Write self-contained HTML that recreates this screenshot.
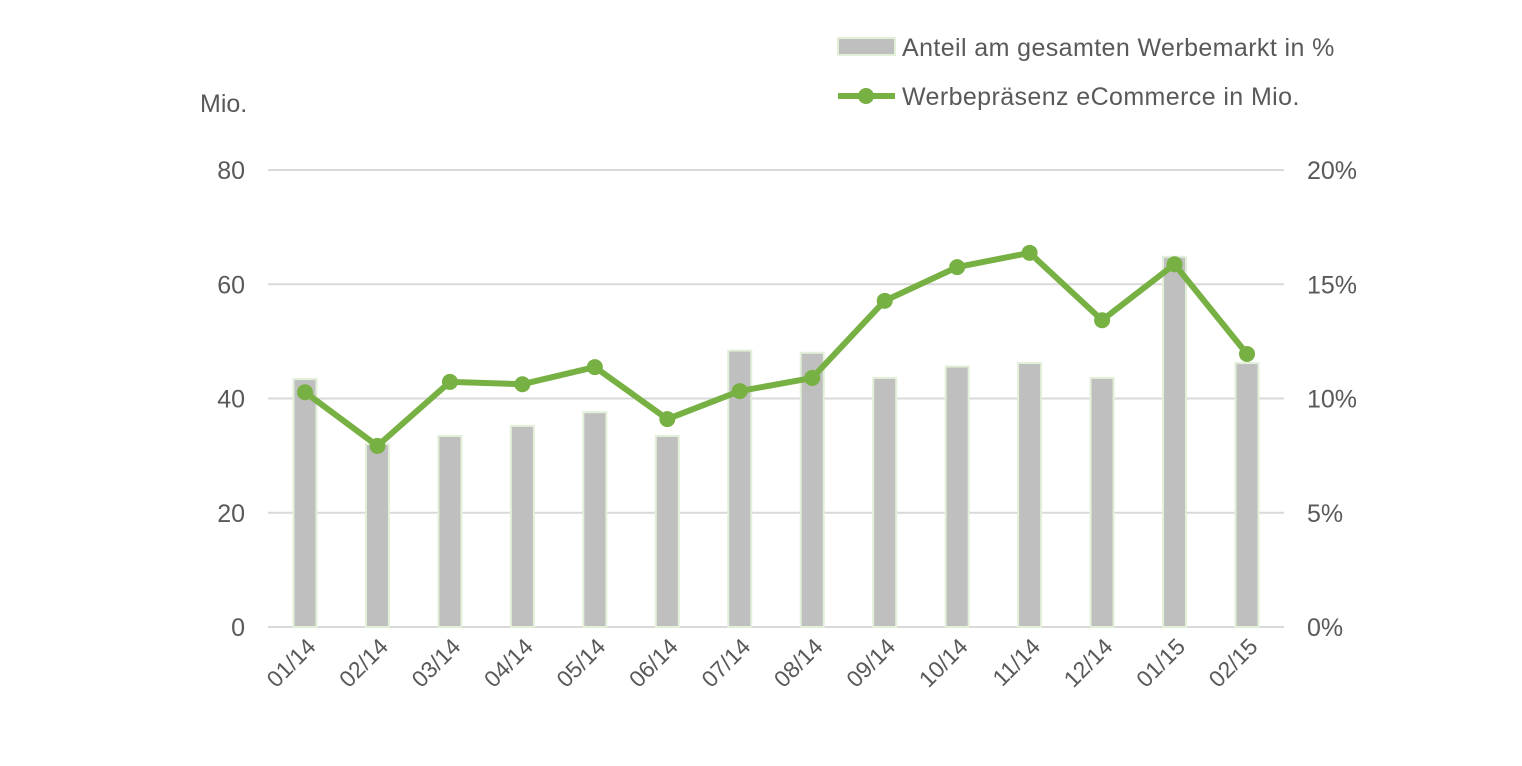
<!DOCTYPE html>
<html><head><meta charset="utf-8"><style>
body{margin:0;background:#fff;font-family:"Liberation Sans",Arial,sans-serif;}
</style></head><body>
<svg width="1522" height="761" xmlns="http://www.w3.org/2000/svg" id="chart" font-family="Liberation Sans, Arial, sans-serif">
<g id="grid"></g><g id="bars"></g><g id="line"></g><g id="axes"></g>
<g>
<rect x="838" y="38" width="57" height="17" fill="#bfbfbf" stroke="#e2efd9" stroke-width="2"/>
<text x="902" y="56" font-size="25" letter-spacing="0.4" fill="#595959">Anteil am gesamten Werbemarkt in %</text>
<line x1="838" y1="96" x2="895" y2="96" stroke="#77b043" stroke-width="6"/>
<circle cx="866" cy="96" r="8" fill="#77b043"/>
<text x="902" y="105" font-size="25" letter-spacing="0.4" fill="#595959">Werbepräsenz eCommerce in Mio.</text>
</g>
<text x="200" y="112" font-size="25" fill="#595959">Mio.</text>
</svg>
<script>
const categories=["01/14","02/14","03/14","04/14","05/14","06/14","07/14","08/14","09/14","10/14","11/14","12/14","01/15","02/15"];
const shareValues=[10.85,8.0,8.36,8.8,9.4,8.36,12.1,12.0,10.9,11.4,11.55,10.9,16.2,11.55];
const presenceValues=[41.1,31.7,42.9,42.5,45.5,36.4,41.3,43.6,57.1,63.0,65.5,53.7,63.5,47.8];
const leftTicks=[0,20,40,60,80];
const rightTicks=["0%","5%","10%","15%","20%"];
const NS="http://www.w3.org/2000/svg";
const y0=627,yTop=170,xL=268,xR=1284;
const xPos=i=>305+i*(1247-305)/(categories.length-1);
const yL=v=>y0-(v/80)*(y0-yTop);
const yR=v=>y0-(v/20)*(y0-yTop);
function mk(p,t,a){const e=document.createElementNS(NS,t);for(const k in a)e.setAttribute(k,a[k]);document.getElementById(p).appendChild(e);return e;}
leftTicks.forEach((t,i)=>{
 const l=mk('grid','line',{x1:xL,x2:xR,y1:yL(t),y2:yL(t),stroke:'#d9d9d9','stroke-width':2});
 
 
 const a=mk('axes','text',{x:245,y:yL(t)+9,'text-anchor':'end','font-size':25,fill:'#595959'});a.textContent=t;
 
 
 const b=mk('axes','text',{x:1307,y:yL(t)+9,'font-size':25,fill:'#595959'});b.textContent=rightTicks[i];
 
 
});
categories.forEach((c,i)=>{
 const r=mk('bars','rect',{x:xPos(i)-11.5,y:yR(shareValues[i]),width:23,height:y0-yR(shareValues[i]),fill:'#bfbfbf',stroke:'#e2efd9','stroke-width':2});
 
 
 const x=xPos(i)+12,y=648;
 const t=mk('axes','text',{x:x,y:y,'text-anchor':'end','font-size':23,fill:'#595959',transform:`rotate(-45 ${x} ${y})`});t.textContent=c;
 
 
});
const pl=mk('line','polyline',{points:presenceValues.map((v,i)=>xPos(i)+','+yL(v)).join(' '),fill:'none',stroke:'#77b043','stroke-width':6,'stroke-linejoin':'round'});


presenceValues.forEach((v,i)=>{
 const c=mk('line','circle',{cx:xPos(i),cy:yL(v),r:8,fill:'#77b043'});
 
 
});
</script>
</body></html>
